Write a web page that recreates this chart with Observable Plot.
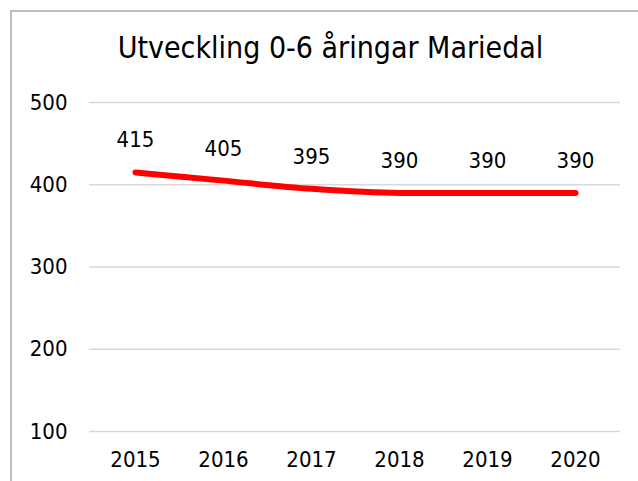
<!DOCTYPE html>
<html>
<head>
<meta charset="utf-8">
<script src="https://cdn.jsdelivr.net/npm/d3@7"></script>
<script src="https://cdn.jsdelivr.net/npm/@observablehq/plot@0.6"></script>
<style>
  html, body { margin: 0; padding: 0; background: #fff; }
  #wrap { position: relative; width: 638px; height: 481px; overflow: hidden; background: #fff; }
  #frame { position: absolute; left: 10px; top: 10px; width: 700px; height: 600px; border-left: 2px solid #bfbfbf; border-top: 2px solid #bfbfbf; box-sizing: border-box; }
  #title { position: absolute; left: 0; width: 661px; top: 28px; text-align: center; font-family: "DejaVu Sans Condensed", "DejaVu Sans", sans-serif; font-stretch: condensed; font-size: 30px; color: #000; line-height: 40px; }
  #chart { position: absolute; left: 0; top: 0; }
  #chart svg { font-family: "DejaVu Sans Condensed", "DejaVu Sans", sans-serif; font-stretch: condensed; }
</style>
</head>
<body>
<div id="wrap">
  <div id="frame"></div>
  <div id="title">Utveckling 0-6 åringar Mariedal</div>
  <div id="chart"></div>
</div>
<script>
const years = ["2015", "2016", "2017", "2018", "2019", "2020"];
const children = [415, 405, 395, 390, 390, 390];
const yTicks = [100, 200, 300, 400, 500];

const data = years.map((y, i) => ({year: y, value: children[i]}));

const chart = Plot.plot({
  width: 638,
  height: 481,
  marginLeft: 89,
  marginRight: 18,
  marginTop: 102,
  marginBottom: 50,
  style: {background: "transparent", fontSize: "22px", color: "#000"},
  x: {type: "point", domain: years, padding: 0.5, label: null},
  y: {domain: [100, 500], ticks: yTicks, label: null},
  marks: [
    Plot.ruleY(yTicks, {stroke: "#d9d9d9", strokeWidth: 1.5}),
    Plot.axisY({ticks: yTicks, tickSize: 0, tickPadding: 22, fontSize: 22, label: null}),
    Plot.axisX({tickSize: 0, tickPadding: 20, fontSize: 22, label: null}),
    Plot.line(data, {x: "year", y: "value", stroke: "#ff0000", strokeWidth: 6, curve: "monotone-x", strokeLinecap: "round"}),
    Plot.text(data, {x: "year", y: "value", text: d => String(d.value), dy: -32, fontSize: 22, fill: "#000"})
  ]
});
document.getElementById("chart").appendChild(chart);
</script>
</body>
</html>
